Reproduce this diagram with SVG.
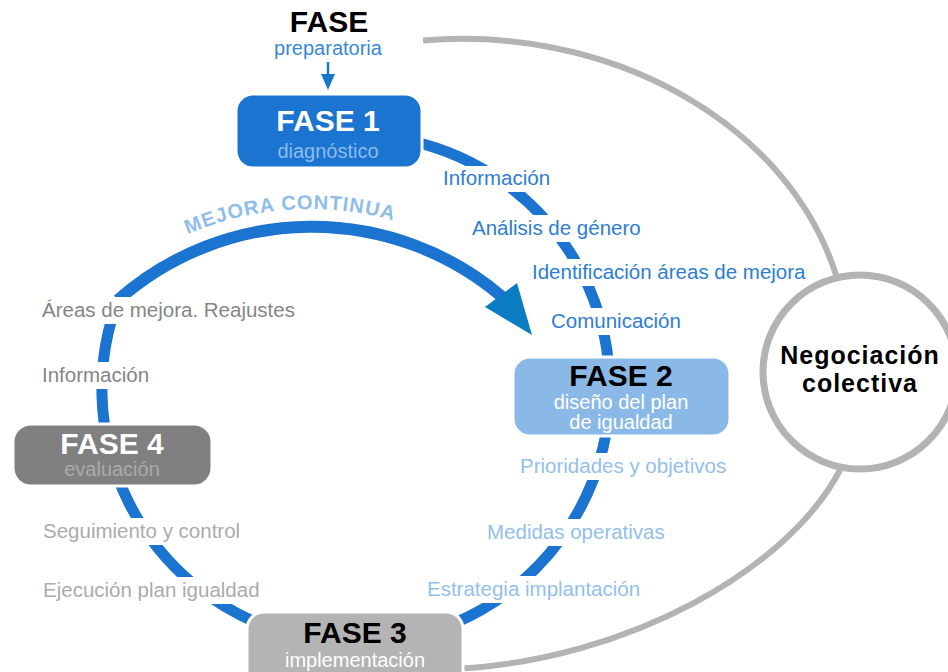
<svg xmlns="http://www.w3.org/2000/svg" width="948" height="672" viewBox="0 0 948 672">
<defs>
<style>
text{font-family:"Liberation Sans",Arial,Helvetica,sans-serif}
.ttl{font-size:30px;font-weight:bold;text-anchor:middle}
.sub{font-size:20px;text-anchor:middle}
.lbl{font-size:20.5px}
.b1{fill:#2d7dd3}
.b2{fill:#93c0eb}
.g4{fill:#858585}
.g3{fill:#ababab}
.bg{fill:#fff}
.box{stroke:#fff;stroke-width:3}
.gray{fill:none;stroke:#b3b3b3;stroke-width:6}
.loop{fill:none;stroke:#1b74d0;stroke-width:11}
</style>
<path id="mejoraTxt" d="M1,518 A309 309 0 0 1 619,518"/>
</defs>
<rect width="948" height="672" fill="#fff"/>

<g id="connectors">
  <path class="gray" d="M423,40.5 A386 315 0 0 1 836,275"/>
  <path class="gray" d="M840,470 C789,568 630,660 455,669"/>
  <path class="loop" d="M400,138.8 A254 254 0 1 1 118,300"/>
  <path fill="none" stroke="#1b74d0" stroke-width="12" d="M118,300 A293 293 0 0 1 502,296.7"/>
  <polygon points="485,307 517,283 532,335" fill="#0b7cc2"/>
  <text font-size="20" font-weight="bold" fill="#8fbde9" letter-spacing="1"><textPath href="#mejoraTxt" startOffset="47.9%" text-anchor="middle">MEJORA CONTINUA</textPath></text>
  <line x1="328" y1="62" x2="328" y2="76" stroke="#1679c8" stroke-width="2.5"/>
  <polygon points="321,74 335,74 328,90" fill="#1679c8"/>
</g>

<g id="labels">
  <rect class="bg" x="440" y="166" width="116" height="26"/>
  <text class="lbl b1" x="443" y="185">Información</text>
  <rect class="bg" x="469" y="215" width="178" height="27"/>
  <text class="lbl b1" x="472" y="235">Análisis de género</text>
  <rect class="bg" x="529" y="259" width="280" height="27"/>
  <text class="lbl b1" x="532" y="279">Identificación áreas de mejora</text>
  <rect class="bg" x="548" y="308" width="142" height="27"/>
  <text class="lbl b1" x="551" y="328">Comunicación</text>

  <rect class="bg" x="517" y="453" width="219" height="27"/>
  <text class="lbl b2" x="520" y="473">Prioridades y objetivos</text>
  <rect class="bg" x="484" y="519" width="191" height="27"/>
  <text class="lbl b2" x="487" y="539">Medidas operativas</text>
  <rect class="bg" x="424" y="576" width="226" height="27"/>
  <text class="lbl b2" x="427" y="596">Estrategia implantación</text>

  <rect class="bg" x="39" y="297" width="265" height="27"/>
  <text class="lbl g4" x="42" y="317">Áreas de mejora. Reajustes</text>
  <rect class="bg" x="39" y="362" width="116" height="27"/>
  <text class="lbl g4" x="42" y="382">Información</text>

  <rect class="bg" x="40" y="518" width="210" height="27"/>
  <text class="lbl g3" x="43" y="538">Seguimiento y control</text>
  <rect class="bg" x="40" y="577" width="228" height="27"/>
  <text class="lbl g3" x="43" y="597">Ejecución plan igualdad</text>
</g>

<g id="fase-prep">
  <text class="ttl" x="329" y="32" fill="#000">FASE</text>
  <text class="sub" x="328" y="55" fill="#3a87d6">preparatoria</text>
</g>

<g id="fase1">
  <rect class="box" x="236" y="94" width="186" height="74" rx="17" fill="#1b74d0"/>
  <text class="ttl" x="328" y="131" fill="#fff">FASE 1</text>
  <text class="sub" x="328" y="158" fill="#8cbcee" font-size="21">diagnóstico</text>
</g>

<g id="fase2">
  <rect class="box" x="513" y="357" width="217" height="79" rx="17" fill="#8bb9e7"/>
  <text class="ttl" x="621" y="386" fill="#000">FASE 2</text>
  <text class="sub" x="621" y="409" fill="#fff" font-size="19">diseño del plan</text>
  <text class="sub" x="621" y="429" fill="#fff" font-size="19">de igualdad</text>
</g>

<g id="fase3">
  <rect class="box" x="247" y="612" width="216" height="76" rx="17" fill="#b4b4b4"/>
  <text class="ttl" x="355" y="643" fill="#000">FASE 3</text>
  <text class="sub" x="355" y="667" fill="#fff">implementación</text>
</g>

<g id="fase4">
  <rect class="box" x="13" y="424" width="199" height="62" rx="18" fill="#808080"/>
  <text class="ttl" x="112" y="454" fill="#fff">FASE 4</text>
  <text class="sub" x="112" y="476" fill="#aaaaaa" font-size="21">evaluación</text>
</g>

<g id="negociacion">
  <circle cx="860" cy="372" r="97" fill="#fff" stroke="#b3b3b3" stroke-width="7"/>
  <text x="860" y="364" font-size="25" font-weight="bold" text-anchor="middle" letter-spacing="1" fill="#000">Negociación</text>
  <text x="860" y="392" font-size="25" font-weight="bold" text-anchor="middle" letter-spacing="1" fill="#000">colectiva</text>
</g>
</svg>
